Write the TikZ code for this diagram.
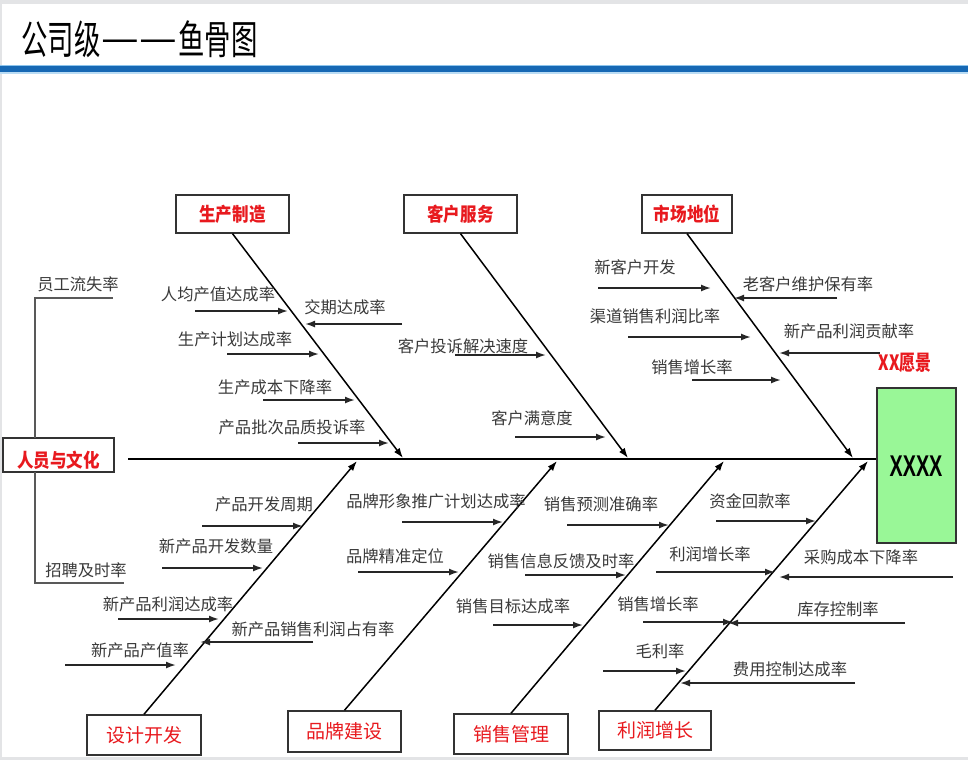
\documentclass[tikz,border=0pt]{standalone}
\usepackage{fontspec}
\newfontfamily\cjk{Noto Sans CJK SC}
\newfontfamily\lib{Liberation Sans}
\usetikzlibrary{arrows.meta}
\definecolor{catred}{HTML}{E8191E}
\definecolor{lblgray}{HTML}{3A3A3A}
\definecolor{boxgreen}{HTML}{99F797}
\definecolor{titleblue}{HTML}{1668B4}
\definecolor{titlelight}{HTML}{8CC4EC}
\definecolor{edgegray}{HTML}{E3E4E6}
\definecolor{framegray}{HTML}{333333}
\begin{document}
\begin{tikzpicture}[x=1pt,y=-1pt,
  lbl/.style={font=\cjk\fontsize{16.3}{18}\selectfont, text=lblgray, inner sep=0pt},
  cattop/.style={draw=framegray, line width=1.3pt, minimum height=38pt, inner sep=0pt,
     font=\cjk\bfseries\fontsize{19}{20}\selectfont, text=catred},
  catbot/.style={draw=framegray, line width=1.5pt, minimum height=40pt, inner sep=0pt,
     font=\cjk\fontsize{19}{20}\selectfont, text=catred},
  spine/.style={line width=2.8pt, black},
  bone/.style={line width=1.5pt, black, -{Latex[length=10pt,width=7pt]}},
  sub/.style={line width=1.7pt, black!85, -{Latex[length=10pt,width=7pt]}},
  conn/.style={line width=1.2pt, black!65}]
\useasboundingbox (0,0) rectangle (968,760);
% page frame and title
\fill[white] (0,0) rectangle (968,760);
\fill[edgegray] (0,0) rectangle (968,4);
\fill[edgegray] (0,757) rectangle (968,760);
\fill[edgegray] (0,4) rectangle (1.5,757);
\node[anchor=west, inner sep=0pt, font=\cjk\fontsize{40}{44}\selectfont] (title) at (21,39) {\scalebox{0.66}[1]{公司级\kern1pt\raisebox{2pt}{\scalebox{1.6}[1]{—}}\kern1.5pt\raisebox{2pt}{\scalebox{1.6}[1]{—}}\kern1pt鱼骨图}};
\fill[titlelight] (0,64.5) rectangle (968,66.5);
\fill[titleblue] (0,66) rectangle (968,72);
\fill[titlelight!60] (0,72) rectangle (968,73.5);

% head
\node[draw=framegray, line width=1.3pt, fill=boxgreen, minimum width=79pt, minimum height=155pt, inner sep=0pt] (head) at (916.5,465.5) {};
\node[inner sep=0pt, font=\lib\bfseries\fontsize{30}{32}\selectfont] (xxxx) at (916,466) {\scalebox{0.66}[1]{XXXX}};
\node[inner sep=0pt, text=catred, font=\cjk\bfseries\fontsize{21}{22}\selectfont] (vision) at (905,363) {\scalebox{0.76}[1]{XX愿景}};

% tail
\node[draw=framegray, line width=1.3pt, minimum width=111pt, minimum height=34pt, inner sep=0pt] (culbox) at (58.5,455) {};
\node[inner sep=0pt, text=catred, font=\cjk\bfseries\fontsize{19}{20}\selectfont] (cul) at (58.5,460) {\scalebox{0.87}[1]{人员与文化}};

% spine
\coordinate (sp0) at (128,459);
\draw[spine] (sp0) -- (sp0 -| head.west);

% category boxes
\node[cattop, minimum width=113pt] (c1) at (232.5,214) {\scalebox{0.87}[1]{生产制造}};
\node[cattop, minimum width=113pt] (c2) at (460.5,214) {\scalebox{0.87}[1]{客户服务}};
\node[cattop, minimum width=90pt]  (c3) at (687,214) {\scalebox{0.87}[1]{市场地位}};
\node[catbot, minimum width=114pt] (c4) at (144,735) {设计开发};
\node[catbot, minimum width=113pt, minimum height=41pt] (c5) at (344.5,731.5) {品牌建设};
\node[catbot, minimum width=114pt] (c6) at (511,734) {销售管理};
\node[catbot, minimum width=112pt, minimum height=39pt] (c7) at (655,730.5) {利润增长};

% bone tips on spine
\coordinate (t1) at (403,458);
\coordinate (t2) at (628,458);
\coordinate (t3) at (853,458);
\coordinate (t4) at (357,461);
\coordinate (t5) at (557,461);
\coordinate (t6) at (724,461);
\coordinate (t7) at (868,461);
\draw[bone] (c1.south) -- (t1);
\draw[bone] (c2.south) -- (t2);
\draw[bone] (c3.south) -- (t3);
\draw[bone] (c4.north) -- (t4);
\draw[bone] (c5.north) -- (t5);
\draw[bone] (c6.north) -- (t6);
\draw[bone] (c7.north) -- (t7);

% culture connectors
\node[lbl] (yg) at (78,284) {员工流失率};
\node[lbl] (zp) at (86,570) {招聘及时率};
\coordinate (cu1) at (35,438);
\coordinate (cu2) at (35,298);
\coordinate (cu3) at (113,298);
\coordinate (cu4) at (35,472);
\coordinate (cu5) at (35,583);
\coordinate (cu6) at (124,583);
\draw[conn] (cu1) -- (cu2) -- (cu3);
\draw[conn] (cu4) -- (cu5) -- (cu6);

% ---- top-left: 生产制造
\node[lbl] (la1) at (218,294) {人均产值达成率};
\node[lbl] (la2) at (345,307) {交期达成率};
\node[lbl] (la3) at (235,339) {生产计划达成率};
\node[lbl] (la4) at (275,387) {生产成本下降率};
\node[lbl] (la5) at (292,427) {产品批次品质投诉率};
\coordinate (a1s) at (195,311); \coordinate (a1e) at (288,311);
\coordinate (a2s) at (402,324); \coordinate (a2e) at (305,324);
\coordinate (a3s) at (227,354); \coordinate (a3e) at (319,354);
\coordinate (a4s) at (263,400); \coordinate (a4e) at (355,400);
\coordinate (a5s) at (298,443); \coordinate (a5e) at (389,443);
\draw[sub] (a1s) -- (a1e);
\draw[sub] (a2s) -- (a2e);
\draw[sub] (a3s) -- (a3e);
\draw[sub] (a4s) -- (a4e);
\draw[sub] (a5s) -- (a5e);

% ---- top-middle: 客户服务
\node[lbl] (la6) at (463,346) {客户投诉解决速度};
\node[lbl] (la7) at (532,418) {客户满意度};
\coordinate (a6s) at (455,355); \coordinate (a6e) at (546,355);
\coordinate (a7s) at (515,437); \coordinate (a7e) at (606,437);
\draw[sub] (a6s) -- (a6e);
\draw[sub] (a7s) -- (a7e);

% ---- top-right: 市场地位
\node[lbl] (la8) at (635,267) {新客户开发};
\node[lbl] (la9) at (808,284) {老客户维护保有率};
\node[lbl] (la10) at (655,316) {渠道销售利润比率};
\node[lbl] (la11) at (849,331) {新产品利润贡献率};
\node[lbl] (la12) at (692,367) {销售增长率};
\coordinate (a8s) at (598,288); \coordinate (a8e) at (711,288);
\coordinate (a9s) at (837,298); \coordinate (a9e) at (734,298);
\coordinate (a10s) at (628,337); \coordinate (a10e) at (751,337);
\coordinate (a11s) at (880,353); \coordinate (a11e) at (779,353);
\coordinate (a12s) at (692,380); \coordinate (a12e) at (781,380);
\draw[sub] (a8s) -- (a8e);
\draw[sub] (a9s) -- (a9e);
\draw[sub] (a10s) -- (a10e);
\draw[sub] (a11s) -- (a11e);
\draw[sub] (a12s) -- (a12e);

% ---- bottom-left: 设计开发
\node[lbl] (lb1) at (264,504) {产品开发周期};
\node[lbl] (lb2) at (216,546) {新产品开发数量};
\node[lbl] (lb3) at (168,604) {新产品利润达成率};
\node[lbl] (lb4) at (313,629) {新产品销售利润占有率};
\node[lbl] (lb5) at (140,650) {新产品产值率};
\coordinate (b1s) at (202,526); \coordinate (b1e) at (303,526);
\coordinate (b2s) at (162,568); \coordinate (b2e) at (263,568);
\coordinate (b3s) at (118,619); \coordinate (b3e) at (219,619);
\coordinate (b4s) at (313,642); \coordinate (b4e) at (200,642);
\coordinate (b5s) at (65,665);  \coordinate (b5e) at (176,665);
\draw[sub] (b1s) -- (b1e);
\draw[sub] (b2s) -- (b2e);
\draw[sub] (b3s) -- (b3e);
\draw[sub] (b4s) -- (b4e);
\draw[sub] (b5s) -- (b5e);

% ---- bottom: 品牌建设
\node[lbl] (lb6) at (436,501) {品牌形象推广计划达成率};
\node[lbl] (lb7) at (395,556) {品牌精准定位};
\coordinate (b6s) at (402,522); \coordinate (b6e) at (503,522);
\coordinate (b7s) at (358,572); \coordinate (b7e) at (459,572);
\draw[sub] (b6s) -- (b6e);
\draw[sub] (b7s) -- (b7e);

% ---- bottom: 销售管理
\node[lbl] (lb8) at (601,504) {销售预测准确率};
\node[lbl] (lb9) at (561,561) {销售信息反馈及时率};
\node[lbl] (lb10) at (513,606) {销售目标达成率};
\coordinate (b8s) at (567,525); \coordinate (b8e) at (669,525);
\coordinate (b9s) at (525,575); \coordinate (b9e) at (626,575);
\coordinate (b10s) at (493,625); \coordinate (b10e) at (583,625);
\draw[sub] (b8s) -- (b8e);
\draw[sub] (b9s) -- (b9e);
\draw[sub] (b10s) -- (b10e);

% ---- bottom-right: 利润增长
\node[lbl] (lb11) at (750,501) {资金回款率};
\node[lbl] (lb12) at (710,554) {利润增长率};
\node[lbl] (lb13) at (861,557) {采购成本下降率};
\node[lbl] (lb14) at (658,604) {销售增长率};
\node[lbl] (lb15) at (838,609) {库存控制率};
\node[lbl] (lb16) at (660,651) {毛利率};
\node[lbl] (lb17) at (790,669) {费用控制达成率};
\coordinate (b11s) at (716,521); \coordinate (b11e) at (816,521);
\coordinate (b12s) at (656,572); \coordinate (b12e) at (775,572);
\coordinate (b13s) at (953,577); \coordinate (b13e) at (779,577);
\coordinate (b14s) at (643,622); \coordinate (b14e) at (733,622);
\coordinate (b15s) at (905,623); \coordinate (b15e) at (728,623);
\coordinate (b16s) at (603,671); \coordinate (b16e) at (686,671);
\coordinate (b17s) at (855,683); \coordinate (b17e) at (680,683);
\draw[sub] (b11s) -- (b11e);
\draw[sub] (b12s) -- (b12e);
\draw[sub] (b13s) -- (b13e);
\draw[sub] (b14s) -- (b14e);
\draw[sub] (b15s) -- (b15e);
\draw[sub] (b16s) -- (b16e);
\draw[sub] (b17s) -- (b17e);
\end{tikzpicture}
\end{document}
